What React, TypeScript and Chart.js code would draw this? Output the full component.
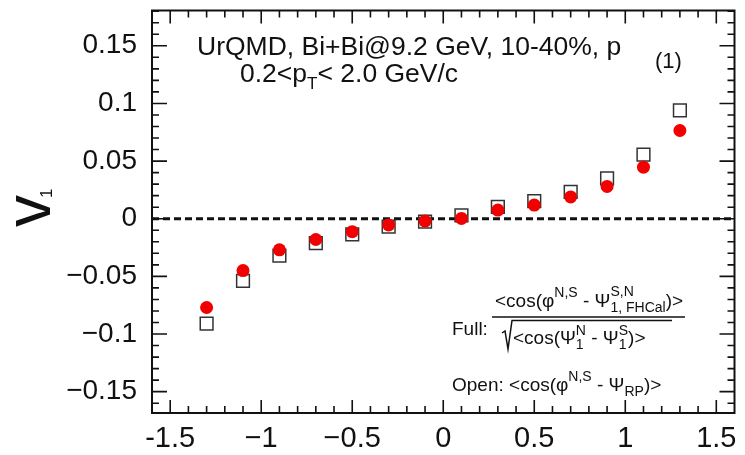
import { useEffect, useRef } from "react";
import { Chart, registerables } from "chart.js";

Chart.register(...registerables);

// Rapidity bin centres and directed flow v1 for protons
const rapidity = [-1.3, -1.1, -0.9, -0.7, -0.5, -0.3, -0.1, 0.1, 0.3, 0.5, 0.7, 0.9, 1.1, 1.3];
const v1Full = [-0.077, -0.045, -0.027, -0.018, -0.0112, -0.0054, -0.002, 0.0003, 0.0075, 0.0118, 0.0189, 0.028, 0.0447, 0.0765];
const v1Open = [-0.091, -0.054, -0.032, -0.0212, -0.0135, -0.0069, -0.0026, 0.003, 0.0103, 0.0152, 0.0232, 0.035, 0.0556, 0.094];

// Labelled (major) ticks
const xMajorValues = [-1.5, -1, -0.5, 0, 0.5, 1, 1.5];
const xMajorLabels = ["-1.5", "\u22121", "\u22120.5", "0", "0.5", "1", "1.5"];
const yMajorValues = [0.15, 0.1, 0.05, 0, -0.05, -0.1, -0.15];
const yMajorLabels = ["0.15", "0.1", "0.05", "0", "\u22120.05", "\u22120.1", "\u22120.15"];

const X_MIN = -1.6;
const X_MAX = 1.6;
const Y_MIN = -0.1685;
const Y_MAX = 0.1806;

const FONT = '"Liberation Sans", Arial, Helvetica, sans-serif';
const INK = "#111";

function stepTicks(from: number, to: number, step: number): { value: number }[] {
  const out: { value: number }[] = [];
  const n = Math.round((to - from) / step);
  for (let i = 0; i <= n; i++) out.push({ value: Math.round((from + i * step) * 1000) / 1000 });
  return out;
}

function labelFor(values: number[], labels: string[], v: number): string {
  const i = values.findIndex((m) => Math.abs(m - v) < 1e-6);
  return i >= 0 ? labels[i] : "";
}

type Seg = { t: string; size: number; dy?: number; stack?: boolean };

function drawRich(ctx: CanvasRenderingContext2D, x: number, y: number, segs: Seg[]) {
  let cx = x;
  let pending = 0;
  for (const s of segs) {
    ctx.font = `${s.size}px ${FONT}`;
    const w = ctx.measureText(s.t).width;
    ctx.fillText(s.t, cx, y + (s.dy ?? 0));
    if (s.stack) {
      pending = w;
    } else {
      cx += Math.max(w, pending);
      pending = 0;
    }
  }
  return cx;
}

const zeroLine = {
  id: "zeroLine",
  beforeDatasetsDraw(chart: any) {
    const { ctx, chartArea, scales } = chart;
    const y = scales.y.getPixelForValue(0);
    ctx.save();
    ctx.strokeStyle = INK;
    ctx.lineWidth = 3;
    ctx.setLineDash([7, 4]);
    ctx.beginPath();
    ctx.moveTo(chartArea.left, y);
    ctx.lineTo(chartArea.right, y);
    ctx.stroke();
    ctx.restore();
  },
};

const frameAndText = {
  id: "frameAndText",
  afterDraw(chart: any) {
    const { ctx, chartArea, scales } = chart;
    const { left, right, top, bottom } = chartArea;
    ctx.save();
    ctx.strokeStyle = INK;
    ctx.lineWidth = 2;
    ctx.setLineDash([]);
    ctx.strokeRect(left, top, right - left, bottom - top);

    // inward ticks on all four sides
    ctx.lineWidth = 1.6;
    ctx.beginPath();
    for (const t of scales.x.ticks) {
      const px = scales.x.getPixelForValue(t.value);
      const major = labelFor(xMajorValues, xMajorLabels, t.value) !== "";
      const len = major ? 13 : 7;
      ctx.moveTo(px, bottom);
      ctx.lineTo(px, bottom - len);
      ctx.moveTo(px, top);
      ctx.lineTo(px, top + len);
    }
    for (const t of scales.y.ticks) {
      const py = scales.y.getPixelForValue(t.value);
      const major = labelFor(yMajorValues, yMajorLabels, t.value) !== "";
      const len = major ? 15 : 7;
      ctx.moveTo(left, py);
      ctx.lineTo(left + len, py);
      ctx.moveTo(right, py);
      ctx.lineTo(right - len, py);
    }
    ctx.stroke();

    ctx.fillStyle = INK;
    ctx.textAlign = "left";
    ctx.textBaseline = "alphabetic";

    // header
    drawRich(ctx, 197, 55, [{ t: "UrQMD, Bi+Bi@9.2 GeV, 10-40%, p", size: 26.5 }]);
    drawRich(ctx, 240, 82, [
      { t: "0.2<p", size: 26.5 },
      { t: "T", size: 17, dy: 7 },
      { t: "< 2.0 GeV/c", size: 26.5 },
    ]);
    drawRich(ctx, 655, 68, [{ t: "(1)", size: 22 }]);

    // method description
    drawRich(ctx, 452, 335, [{ t: "Full:", size: 19 }]);
    drawRich(ctx, 495, 307, [
      { t: "<cos(\u03c6", size: 19 },
      { t: "N,S", size: 14, dy: -10 },
      { t: " - \u03a8", size: 19 },
      { t: "S,N", size: 14, dy: -11, stack: true },
      { t: "1, FHCal", size: 14, dy: 5 },
      { t: ")>", size: 19 },
    ]);
    ctx.lineWidth = 1.5;
    ctx.beginPath();
    ctx.moveTo(492, 317);
    ctx.lineTo(685, 317);
    ctx.stroke();
    ctx.beginPath();
    ctx.moveTo(502, 333);
    ctx.lineTo(505, 331);
    ctx.lineTo(508, 349);
    ctx.lineTo(512, 320.5);
    ctx.lineTo(672, 320.5);
    ctx.stroke();
    drawRich(ctx, 513, 344, [
      { t: "<cos(\u03a8", size: 19 },
      { t: "N", size: 14, dy: -9, stack: true },
      { t: "1", size: 14, dy: 5 },
      { t: " - \u03a8", size: 19 },
      { t: "S", size: 14, dy: -9, stack: true },
      { t: "1", size: 14, dy: 5 },
      { t: ")>", size: 19 },
    ]);
    drawRich(ctx, 452, 391, [
      { t: "Open: <cos(\u03c6", size: 19 },
      { t: "N,S", size: 14, dy: -10 },
      { t: " - \u03a8", size: 19 },
      { t: "RP", size: 14, dy: 5 },
      { t: ")>", size: 19 },
    ]);

    // y-axis title v1
    ctx.translate(50, 227);
    ctx.rotate(-Math.PI / 2);
    ctx.font = `64px ${FONT}`;
    const vw = ctx.measureText("v").width;
    ctx.fillText("v", 0, 0);
    ctx.font = `17px ${FONT}`;
    ctx.fillText("1", vw - 3, 2);
    ctx.restore();
  },
};

export default function App() {
  const ref = useRef<HTMLCanvasElement | null>(null);

  useEffect(() => {
    const canvas = ref.current;
    if (!canvas) return;
    const chart = new Chart(canvas, {
      type: "scatter",
      data: {
        datasets: [
          {
            label: "Full",
            data: rapidity.map((x, i) => ({ x, y: v1Full[i] })),
            pointStyle: "circle",
            pointRadius: 6.5,
            pointHoverRadius: 6.5,
            pointBorderWidth: 0,
            pointBackgroundColor: "#f20000",
            pointBorderColor: "#f20000",
            showLine: false,
            order: 0,
          },
          {
            label: "Open",
            data: rapidity.map((x, i) => ({ x, y: v1Open[i] })),
            pointStyle: "rect",
            pointRadius: 9,
            pointHoverRadius: 9,
            pointBorderWidth: 1.5,
            pointBackgroundColor: "rgba(0,0,0,0)",
            pointBorderColor: "#333",
            showLine: false,
            order: 1,
          },
        ],
      },
      options: {
        responsive: false,
        animation: false,
        devicePixelRatio: 1,
        layout: { padding: { top: 7, right: 8, bottom: 0, left: 0 } },
        plugins: {
          legend: { display: false },
          tooltip: { enabled: false },
          title: { display: false },
        },
        events: [],
        scales: {
          x: {
            type: "linear",
            min: X_MIN,
            max: X_MAX,
            afterBuildTicks: (scale: any) => {
              scale.ticks = stepTicks(-1.5, 1.5, 0.1);
            },
            afterFit: (scale: any) => {
              scale.height = 42;
              scale.paddingLeft = 0;
              scale.paddingRight = 0;
              scale.paddingTop = 0;
              scale.paddingBottom = 0;
            },
            grid: { display: false, drawTicks: false },
            border: { display: false },
            ticks: {
              autoSkip: false,
              maxRotation: 0,
              minRotation: 0,
              padding: 9,
              color: INK,
              font: { family: FONT, size: 29 },
              callback: (v: any) => labelFor(xMajorValues, xMajorLabels, Number(v)),
            },
          },
          y: {
            type: "linear",
            min: Y_MIN,
            max: Y_MAX,
            afterBuildTicks: (scale: any) => {
              scale.ticks = stepTicks(-0.16, 0.18, 0.01);
            },
            afterFit: (scale: any) => {
              scale.width = 152;
              scale.paddingLeft = 0;
              scale.paddingRight = 0;
              scale.paddingTop = 0;
              scale.paddingBottom = 0;
            },
            grid: { display: false, drawTicks: false },
            border: { display: false },
            ticks: {
              autoSkip: false,
              padding: 15,
              color: INK,
              font: { family: FONT, size: 28 },
              callback: (v: any) => labelFor(yMajorValues, yMajorLabels, Number(v)),
            },
          },
        },
      },
      plugins: [zeroLine, frameAndText],
    });
    return () => chart.destroy();
  }, []);

  return (
    <div style={{ position: "fixed", left: 0, top: 0, width: 745, height: 455, background: "#fff" }}>
      <canvas ref={ref} width={745} height={455} style={{ display: "block" }} />
    </div>
  );
}
